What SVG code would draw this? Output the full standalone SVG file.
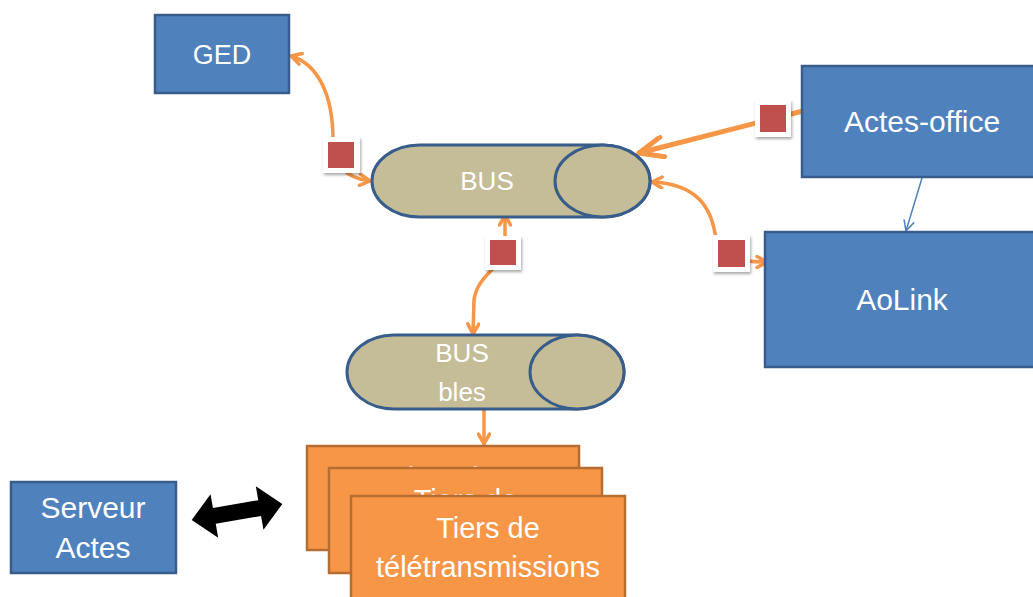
<svg xmlns="http://www.w3.org/2000/svg" width="1033" height="597" viewBox="0 0 1033 597">
<style>
.blue{fill:#4F81BD;stroke:#385D8A;stroke-width:2.5}
.bus{fill:#C4BD97;stroke:#385D8A;stroke-width:3}
.tier{fill:#F79646;stroke:#B66D31;stroke-width:2.5}
.t{font-family:"Liberation Sans",Arial,sans-serif;fill:#FFFFFF;text-anchor:middle}
.oc{fill:none;stroke:#F79646;stroke-width:3.5;stroke-linecap:round}
.wb{fill:#FFFFFF;filter:url(#sh)}
.rs{fill:#C0504D}
</style>
<defs>
<filter id="sh" x="-30%" y="-30%" width="160%" height="160%">
<feDropShadow dx="1" dy="2" stdDeviation="1.5" flood-color="#000" flood-opacity="0.35"/>
</filter>
<marker id="oa" viewBox="0 0 14 14" markerWidth="14" markerHeight="14" refX="12" refY="7" orient="auto-start-reverse" markerUnits="userSpaceOnUse">
<path d="M2,1.5 L12,7 L2,12.5" fill="none" stroke="#F79646" stroke-width="3.5" stroke-linecap="round" stroke-linejoin="round"/>
</marker>
<marker id="ob" viewBox="0 0 30 24" markerWidth="30" markerHeight="24" refX="27" refY="12" orient="auto" markerUnits="userSpaceOnUse">
<path d="M3,2 L27,12 L3,22" fill="none" stroke="#F79646" stroke-width="5" stroke-linecap="round" stroke-linejoin="round"/>
</marker>
<marker id="bm" viewBox="0 0 12 12" markerWidth="12" markerHeight="12" refX="11" refY="6" orient="auto" markerUnits="userSpaceOnUse">
<path d="M1,1 L11,6 L1,11" fill="none" stroke="#4F81BD" stroke-width="1.5" stroke-linecap="round"/>
</marker>
</defs>
<rect width="1033" height="597" fill="#FFFFFF"/>

<g id="connectors">
<path class="oc" d="M291,56 C318,64 333,95 333,140 C333,165 345,178 370,181" marker-start="url(#oa)" marker-end="url(#oa)"/>
<path d="M803,111 L639,153" fill="none" stroke="#F79646" stroke-width="5" stroke-linecap="round" marker-end="url(#ob)"/>
<path class="oc" d="M652,182 C695,184 712,205 716,240 C719,258 740,262 767,262" marker-start="url(#oa)" marker-end="url(#oa)"/>
<path class="oc" d="M505,215 L505,245 C505,268 478,272 474,300 L473,334" marker-start="url(#oa)" marker-end="url(#oa)"/>
<path class="oc" d="M484,410 L484,444" marker-end="url(#oa)"/>
<path d="M922,178 L906,231" fill="none" stroke="#4F81BD" stroke-width="1.5" marker-end="url(#bm)"/>
<polygon transform="translate(237,512) rotate(-10)" points="-46,0 -23,-22 -23,-8 23,-8 23,-22 46,0 23,22 23,8 -23,8 -23,22" fill="#000000"/>
</g>

<g id="sq-ged"><rect class="wb" x="323" y="137" width="37" height="36"/><rect class="rs" x="328" y="142" width="26" height="26"/></g>
<g id="sq-actes"><rect class="wb" x="755" y="100" width="36" height="37"/><rect class="rs" x="760" y="105" width="26" height="27"/></g>
<g id="sq-aolink"><rect class="wb" x="713" y="235" width="37" height="37"/><rect class="rs" x="718" y="240" width="27" height="27"/></g>
<g id="sq-bus"><rect class="wb" x="485" y="236" width="36" height="34"/><rect class="rs" x="490" y="240" width="26" height="25"/></g>

<g id="ged">
<rect class="blue" x="155" y="15" width="134" height="78"/>
<text class="t" x="222" y="64" font-size="27">GED</text>
</g>

<g id="actes-office">
<rect class="blue" x="802" y="66" width="245" height="111"/>
<text class="t" x="922" y="132" font-size="30">Actes-office</text>
</g>

<g id="aolink">
<rect class="blue" x="765" y="232" width="282" height="135"/>
<text class="t" x="902" y="310" font-size="30">AoLink</text>
</g>

<g id="bus">
<path class="bus" d="M419.5,145 L602.5,145 A47.5,36 0 0 1 602.5,217 L419.5,217 A47.5,36 0 0 1 419.5,145 Z"/>
<ellipse class="bus" cx="602.5" cy="181" rx="47.5" ry="36"/>
<text class="t" x="487" y="190" font-size="26">BUS</text>
</g>

<g id="bus-bles">
<path class="bus" d="M394,335 L577,335 A47,37 0 0 1 577,409 L394,409 A47,37 0 0 1 394,335 Z"/>
<ellipse class="bus" cx="577" cy="372" rx="47" ry="37"/>
<text class="t" x="462" y="362" font-size="26">BUS</text>
<text class="t" x="462" y="401" font-size="26">bles</text>
</g>

<g id="tiers-1">
<rect class="tier" x="307" y="446" width="272" height="104"/>
<text class="t" x="443" y="488" font-size="29">Tiers de</text>
<text class="t" x="443" y="527" font-size="29">télétransmissions</text>
</g>
<g id="tiers-2">
<rect class="tier" x="329" y="468" width="273" height="105"/>
<text class="t" x="465.5" y="510" font-size="29">Tiers de</text>
<text class="t" x="465.5" y="549" font-size="29">télétransmissions</text>
</g>
<g id="tiers-3">
<rect class="tier" x="351" y="496" width="274" height="106"/>
<text class="t" x="488" y="538" font-size="29">Tiers de</text>
<text class="t" x="488" y="577" font-size="29">télétransmissions</text>
</g>

<g id="serveur-actes">
<rect class="blue" x="11" y="482" width="165" height="91"/>
<text class="t" x="93" y="518" font-size="30">Serveur</text>
<text class="t" x="93" y="558" font-size="30">Actes</text>
</g>
</svg>
